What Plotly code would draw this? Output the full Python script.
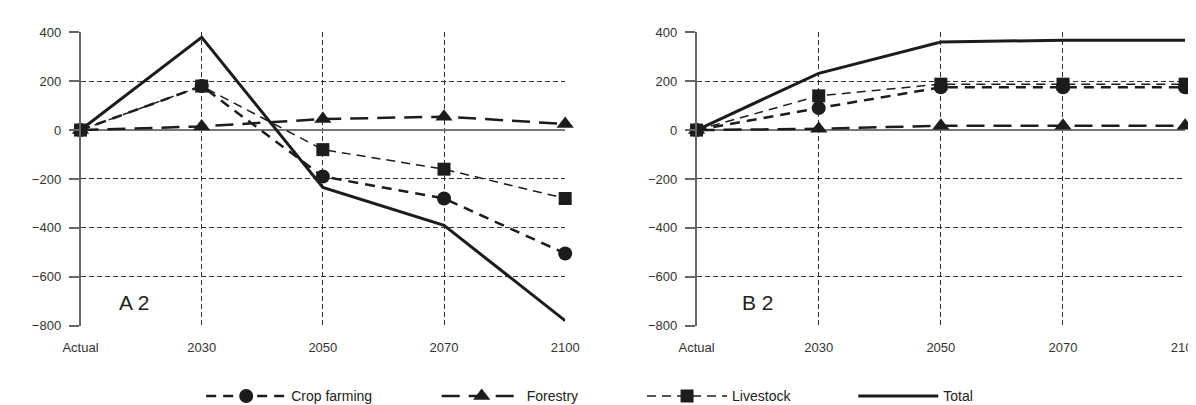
import plotly.graph_objects as go

categories = ["Actual", "2030", "2050", "2070", "2100"]
y_ticks = [-800, -600, -400, -200, 0, 200, 400]

crop_a = [0, 180, -190, -280, -505]
forest_a = [0, 15, 45, 55, 25]
live_a = [0, 180, -80, -160, -280]
total_a = [0, 380, -235, -390, -780]

crop_b = [0, 90, 175, 175, 175]
forest_b = [0, 5, 18, 18, 18]
live_b = [0, 140, 188, 188, 188]
total_b = [0, 232, 360, 368, 368]

xpos = list(range(len(categories)))
INK = "#1c1c1c"
FONT = "Arial, Liberation Sans, sans-serif"

styles = {
    "Crop farming": dict(line=dict(color=INK, width=2.5, dash="10px,7px"),
                         marker=dict(symbol="circle", size=14, color=INK)),
    "Forestry": dict(line=dict(color=INK, width=2.5, dash="18px,9px"),
                     marker=dict(symbol="triangle-up", size=15, color=INK)),
    "Livestock": dict(line=dict(color=INK, width=1.5, dash="9px,6px"),
                      marker=dict(symbol="square", size=13, color=INK)),
    "Total": dict(line=dict(color=INK, width=3), mode="lines"),
}

panels = [
    ("x", "y", {"Crop farming": crop_a, "Forestry": forest_a, "Livestock": live_a, "Total": total_a}, True),
    ("x2", "y2", {"Crop farming": crop_b, "Forestry": forest_b, "Livestock": live_b, "Total": total_b}, False),
]
legend_ids = {"Crop farming": "legend", "Forestry": "legend2", "Livestock": "legend3", "Total": "legend4"}

fig = go.Figure()
for xa, ya, series, show in panels:
    for name, vals in series.items():
        st = dict(styles[name])
        mode = st.pop("mode", "lines+markers")
        fig.add_trace(go.Scatter(
            x=xpos, y=vals, name=name, mode=mode, xaxis=xa, yaxis=ya,
            showlegend=show, legend=legend_ids[name], cliponaxis=False, **st))

xcommon = dict(range=[0, 4], tickmode="array", tickvals=xpos, ticktext=categories,
               showgrid=True, griddash="5px,3px", gridcolor="#333", gridwidth=1,
               zeroline=False, showline=False, ticks="", ticklabelstandoff=12,
               tickfont=dict(family=FONT, size=13, color="#333"))
ycommon = dict(range=[-800, 400], tickmode="array", tickvals=y_ticks,
               showgrid=True, griddash="5px,3px", gridcolor="#333", gridwidth=1,
               zeroline=True, zerolinecolor="#777", zerolinewidth=1.5,
               showline=True, linecolor="#666", linewidth=1.5,
               ticks="outside", ticklen=10, tickcolor="#666", tickwidth=1.5,
               ticklabelstandoff=5,
               tickfont=dict(family=FONT, size=13, color="#333"))

ytop = 1 - 18 / 405
ybot = 1 - 322.5 / 405
fig.update_layout(
    width=1196, height=405, margin=dict(l=0, r=0, t=0, b=0),
    plot_bgcolor="white", paper_bgcolor="white",
    xaxis=dict(domain=[56 / 1196, 554 / 1196], anchor="y", **xcommon),
    yaxis=dict(domain=[ybot, ytop], anchor="x", **ycommon),
    xaxis2=dict(domain=[689 / 1196, 1191 / 1196], anchor="y2", **xcommon),
    yaxis2=dict(domain=[ybot, ytop], anchor="x2", **ycommon),
    font=dict(family=FONT, color="#222"),
)

leg_x = {"legend": 180, "legend2": 422, "legend3": 633, "legend4": 850}
for lid, px in leg_x.items():
    fig.update_layout({lid: dict(x=px / 1196, y=1 - 396 / 405, xanchor="left", yanchor="middle",
                                 orientation="h", itemwidth=80, bgcolor="rgba(0,0,0,0)",
                                 font=dict(family=FONT, size=14, color="#222"))})

fig.add_annotation(x=0.44, y=-705, xref="x", yref="y", text="A 2", showarrow=False,
                   font=dict(family=FONT, size=21, color="#222"))
fig.add_annotation(x=0.5, y=-705, xref="x2", yref="y2", text="B 2", showarrow=False,
                   font=dict(family=FONT, size=21, color="#222"))

fig.write_html("out.html")
